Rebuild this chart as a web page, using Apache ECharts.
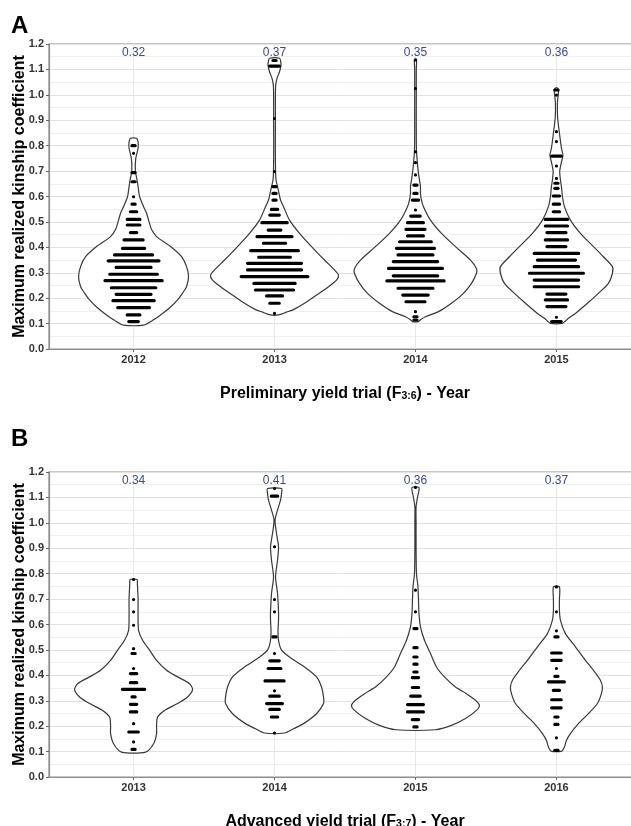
<!DOCTYPE html>
<html>
<head>
<meta charset="utf-8">
<script src="https://cdn.jsdelivr.net/npm/echarts@6/dist/echarts.min.js"></script>
<style>
  html, body { margin: 0; padding: 0; background: #fff; }
  #chart { width: 631px; height: 826px; }
</style>
</head>
<body>
<div id="chart"></div>
<script>
// Panel A - preliminary yield trial
const yearsA = ['2012', '2013', '2014', '2015'];
const meansA = ['0.32', '0.37', '0.35', '0.36'];
// Panel B - advanced yield trial
const yearsB = ['2013', '2014', '2015', '2016'];
const meansB = ['0.34', '0.41', '0.36', '0.37'];

// violin outlines: [kinship, half width], bottom to top
const violinA2012 = [[0.094, 10], [0.115, 20], [0.140, 29], [0.165, 37], [0.193, 44], [0.220, 49], [0.245, 53], [0.285, 55], [0.324, 53], [0.363, 48], [0.403, 37], [0.442, 23], [0.470, 18], [0.494, 16], [0.534, 13], [0.560, 10], [0.600, 6], [0.639, 4.5], [0.665, 3.5], [0.700, 1.8], [0.750, 2.2], [0.790, 4.5], [0.815, 4.5], [0.829, 3]];
const violinA2013 = [[0.134, 4], [0.145, 12], [0.155, 19], [0.180, 30], [0.212, 42], [0.245, 54], [0.271, 62], [0.291, 64], [0.311, 60], [0.350, 50], [0.403, 37], [0.455, 25], [0.507, 15], [0.560, 9], [0.586, 6], [0.612, 4.5], [0.639, 3], [0.665, 1.5], [0.700, 1], [0.800, 0.8], [0.900, 0.9], [1.000, 0.9], [1.039, 1.2], [1.065, 2.5], [1.091, 5], [1.117, 6.5], [1.135, 6], [1.144, 5]];
const violinA2014 = [[0.108, 3], [0.115, 5], [0.127, 10], [0.147, 23], [0.180, 36], [0.219, 48], [0.258, 56], [0.298, 61], [0.317, 61], [0.350, 55], [0.403, 40], [0.455, 26], [0.507, 15], [0.560, 8], [0.586, 6], [0.612, 5], [0.639, 5], [0.665, 4], [0.691, 3], [0.730, 2], [0.780, 1], [0.850, 0.8], [1.000, 0.8], [1.100, 0.8], [1.140, 1]];
const violinA2015 = [[0.101, 6], [0.110, 9], [0.121, 12], [0.140, 19], [0.180, 31], [0.219, 42], [0.258, 52], [0.298, 56], [0.324, 56], [0.363, 47], [0.403, 37], [0.455, 24], [0.507, 14], [0.560, 8], [0.600, 6], [0.639, 5], [0.665, 4], [0.700, 3.3], [0.735, 5], [0.763, 6.5], [0.790, 5], [0.850, 3], [0.910, 1.2], [0.970, 1], [1.000, 1.8], [1.020, 2.2], [1.027, 1]];
const violinB2013 = [[0.098, 12], [0.131, 20], [0.171, 23], [0.203, 23], [0.236, 24], [0.262, 31], [0.289, 44], [0.315, 54], [0.344, 59], [0.367, 56], [0.394, 44], [0.420, 33], [0.459, 23], [0.499, 16], [0.538, 9], [0.577, 5], [0.630, 4.5], [0.700, 4.5], [0.760, 3.8], [0.777, 3.5]];
const violinB2014 = [[0.173, 10], [0.190, 19], [0.210, 29], [0.249, 42], [0.289, 49], [0.315, 49], [0.354, 47], [0.394, 42], [0.433, 30], [0.466, 17], [0.499, 7], [0.538, 4], [0.577, 3.5], [0.617, 4], [0.650, 4], [0.722, 3], [0.787, 1], [0.853, 3], [0.906, 4], [0.958, 2], [1.010, 0.5], [1.050, 3], [1.089, 6], [1.115, 7], [1.135, 7]];
const violinB2015 = [[0.186, 20], [0.203, 36], [0.230, 50], [0.262, 61], [0.282, 64], [0.302, 60], [0.328, 51], [0.354, 40], [0.394, 29], [0.433, 21], [0.486, 15], [0.538, 9], [0.591, 5], [0.643, 3.5], [0.696, 3], [0.748, 2.5], [0.800, 1], [0.900, 0.6], [1.000, 0.6], [1.063, 0.6], [1.100, 2], [1.139, 3.5]];
const violinB2016 = [[0.102, 5.5], [0.118, 8], [0.144, 10], [0.171, 14], [0.210, 22], [0.249, 32], [0.289, 41], [0.328, 45], [0.354, 46], [0.381, 44], [0.420, 37], [0.459, 29], [0.512, 19], [0.564, 9], [0.617, 4], [0.656, 3], [0.700, 3], [0.748, 3]];

// dot plot rows: [kinship, number of lines]
const dotsA2012 = [[0.108, 4], [0.134, 5], [0.163, 11], [0.190, 14], [0.215, 12], [0.241, 15], [0.269, 19], [0.294, 16], [0.321, 12], [0.347, 17], [0.370, 13], [0.396, 8], [0.429, 7], [0.458, 3], [0.488, 5], [0.510, 5], [0.540, 3], [0.570, 2], [0.599, 1], [0.658, 2], [0.694, 2], [0.770, 1], [0.800, 2]];
const dotsA2013 = [[0.140, 1], [0.180, 4], [0.209, 6], [0.232, 13], [0.258, 14], [0.285, 22], [0.311, 18], [0.337, 18], [0.361, 11], [0.387, 16], [0.416, 8], [0.442, 12], [0.468, 5], [0.497, 9], [0.527, 4], [0.549, 3], [0.586, 2], [0.612, 2], [0.639, 2], [0.698, 1], [0.907, 1], [1.113, 4], [1.135, 2]];
const dotsA2014 = [[0.114, 2], [0.127, 2], [0.147, 1], [0.186, 7], [0.212, 9], [0.239, 12], [0.268, 19], [0.288, 15], [0.317, 18], [0.344, 15], [0.370, 12], [0.396, 13], [0.422, 11], [0.445, 6], [0.471, 7], [0.497, 6], [0.523, 4], [0.547, 1], [0.586, 3], [0.612, 2], [0.645, 2], [0.685, 1], [0.733, 1], [0.776, 1], [1.025, 1], [1.137, 1]];
const dotsA2015 = [[0.108, 4], [0.125, 1], [0.167, 7], [0.193, 8], [0.216, 7], [0.245, 15], [0.271, 15], [0.298, 18], [0.324, 15], [0.350, 13], [0.376, 15], [0.403, 7], [0.429, 8], [0.458, 7], [0.484, 8], [0.510, 8], [0.540, 3], [0.570, 3], [0.602, 3], [0.632, 2], [0.652, 2], [0.671, 1], [0.720, 1], [0.759, 4], [0.816, 1], [0.855, 1], [0.999, 1], [1.019, 2]];
const dotsB2013 = [[0.109, 2], [0.138, 1], [0.177, 4], [0.210, 1], [0.256, 3], [0.286, 3], [0.315, 2], [0.345, 8], [0.371, 3], [0.407, 3], [0.427, 1], [0.486, 2], [0.505, 1], [0.597, 1], [0.650, 1], [0.698, 1], [0.777, 1]];
const dotsB2014 = [[0.173, 1], [0.236, 3], [0.266, 4], [0.289, 6], [0.318, 4], [0.339, 1], [0.378, 7], [0.427, 5], [0.457, 4], [0.486, 1], [0.551, 2], [0.650, 1], [0.698, 1], [0.906, 1], [1.105, 3], [1.135, 1]];
const dotsB2015 = [[0.197, 2], [0.226, 3], [0.256, 6], [0.285, 6], [0.318, 4], [0.352, 3], [0.391, 3], [0.413, 2], [0.444, 2], [0.472, 2], [0.509, 2], [0.584, 2], [0.650, 1], [0.735, 1], [1.139, 1]];
const dotsB2016 = [[0.105, 2], [0.154, 1], [0.207, 2], [0.236, 2], [0.272, 4], [0.304, 4], [0.341, 3], [0.374, 6], [0.396, 2], [0.427, 1], [0.459, 4], [0.488, 4], [0.551, 2], [0.575, 1], [0.650, 1], [0.748, 1]];

const violinsA = [violinA2012, violinA2013, violinA2014, violinA2015];
const violinsB = [violinB2013, violinB2014, violinB2015, violinB2016];
const dotsA = [dotsA2012, dotsA2013, dotsA2014, dotsA2015];
const dotsB = [dotsB2013, dotsB2014, dotsB2015, dotsB2016];

const widthScale = 1 / 141; // half width units -> x axis units
const binWidth = 0.0125;    // dot diameter, in kinship units
const labelY = 1.165;
const font = 'Liberation Sans, Arial, Helvetica, sans-serif';
const axisGrey = '#8e8e8e';

const chart = echarts.init(document.getElementById('chart'));

function xAxisFor(years, gridIndex, title, sub) {
  const pos = years.map((_, i) => i + 1);
  return {
    type: 'value',
    gridIndex,
    min: 0.4,
    max: 4.6,
    name: `{t|${title} (F}{s|${sub}}{t|) - Year}`,
    nameLocation: 'middle',
    nameGap: 33,
    nameMoveOverlap: false,
    nameTextStyle: {
      rich: {
        t: { fontFamily: font, fontSize: 16, fontWeight: 'bold', color: '#000', verticalAlign: 'bottom', lineHeight: 20 },
        s: { fontFamily: font, fontSize: 10.5, fontWeight: 'bold', color: '#000', verticalAlign: 'bottom', lineHeight: 17 },
      },
    },
    axisLine: { show: true, lineStyle: { color: axisGrey, width: 1.2 } },
    axisTick: { show: true, customValues: pos, length: 3, lineStyle: { color: '#666' } },
    axisLabel: {
      customValues: pos,
      formatter: (v) => years[Math.round(v) - 1],
      margin: 5,
      fontFamily: font,
      fontSize: 11,
      fontWeight: 'bold',
      color: '#333',
    },
    splitLine: { show: true, lineStyle: { color: '#e8e8e8', width: 1 } },
  };
}

function yAxisFor(gridIndex) {
  return {
    type: 'value',
    gridIndex,
    min: 0,
    max: 1.2,
    interval: 0.1,
    name: 'Maximum realized kinship coefficient',
    nameLocation: 'middle',
    nameGap: 21,
    nameMoveOverlap: false,
    nameTextStyle: { fontFamily: font, fontSize: 16, fontWeight: 'bold', color: '#000' },
    axisLine: { show: true, lineStyle: { color: axisGrey, width: 1.2 } },
    axisTick: { show: true, length: 3, lineStyle: { color: '#666' } },
    axisLabel: {
      formatter: (v) => v.toFixed(1),
      margin: 5,
      fontFamily: font,
      fontSize: 11,
      fontWeight: 'bold',
      color: '#333',
    },
    splitLine: { show: true, lineStyle: { color: '#e2e2e2', width: 1 } },
    minorTick: { show: false, splitNumber: 2 },
    minorSplitLine: { show: true, lineStyle: { color: '#efefef', width: 1 } },
  };
}

function violinSeries(outlines, axisIndex) {
  return {
    type: 'custom',
    xAxisIndex: axisIndex,
    yAxisIndex: axisIndex,
    z: 2,
    silent: true,
    data: outlines.map((_, i) => [i + 1, 0]),
    renderItem(params, api) {
      const cx = api.value(0);
      const pts = outlines[params.dataIndex];
      const right = pts.map(([v, w]) => api.coord([cx + w * widthScale, v]));
      const left = pts.slice().reverse().map(([v, w]) => api.coord([cx - w * widthScale, v]));
      return {
        type: 'polygon',
        shape: { points: right.concat(left), smooth: 0.25 },
        style: { fill: '#fff', stroke: '#383838', lineWidth: 1.2 },
      };
    },
  };
}

function dotSeries(groups, axisIndex) {
  const data = [];
  groups.forEach((rows, i) => rows.forEach(([v, n]) => data.push([i + 1, v, n])));
  return {
    type: 'custom',
    xAxisIndex: axisIndex,
    yAxisIndex: axisIndex,
    z: 3,
    silent: true,
    data,
    renderItem(params, api) {
      const c = api.coord([api.value(0), api.value(1)]);
      const d = api.size([0, binWidth])[1];
      const w = api.value(2) * d;
      return {
        type: 'rect',
        shape: { x: c[0] - w / 2, y: c[1] - d / 2, width: w, height: d, r: d / 2 },
        style: { fill: '#000' },
      };
    },
  };
}

function meanSeries(means, axisIndex) {
  return {
    type: 'custom',
    xAxisIndex: axisIndex,
    yAxisIndex: axisIndex,
    z: 4,
    silent: true,
    data: means.map((m, i) => [i + 1, labelY, m]),
    renderItem(params, api) {
      const c = api.coord([api.value(0), api.value(1)]);
      return {
        type: 'text',
        x: c[0],
        y: c[1],
        style: {
          text: means[params.dataIndex],
          fill: '#3a45a8',
          font: `12px ${font}`,
          align: 'center',
          verticalAlign: 'middle',
        },
      };
    },
  };
}

const gridBase = {
  left: 49, width: 592, height: 305, show: true,
  borderColor: axisGrey, borderWidth: 1.2, backgroundColor: '#fff',
  containLabel: false, outerBoundsMode: 'none',
};

chart.setOption({
  animation: false,
  backgroundColor: '#fff',
  grid: [
    { ...gridBase, top: 44 },
    { ...gridBase, top: 472 },
  ],
  graphic: [
    { type: 'text', left: 11, top: 14, style: { text: 'A', font: `bold 24px ${font}`, fill: '#000' } },
    { type: 'text', left: 11, top: 427, style: { text: 'B', font: `bold 24px ${font}`, fill: '#000' } },
  ],
  xAxis: [
    xAxisFor(yearsA, 0, 'Preliminary yield trial', '3:6'),
    xAxisFor(yearsB, 1, 'Advanced yield trial', '3:7'),
  ],
  yAxis: [yAxisFor(0), yAxisFor(1)],
  series: [
    violinSeries(violinsA, 0),
    dotSeries(dotsA, 0),
    meanSeries(meansA, 0),
    violinSeries(violinsB, 1),
    dotSeries(dotsB, 1),
    meanSeries(meansB, 1),
  ],
});
</script>
</body>
</html>
